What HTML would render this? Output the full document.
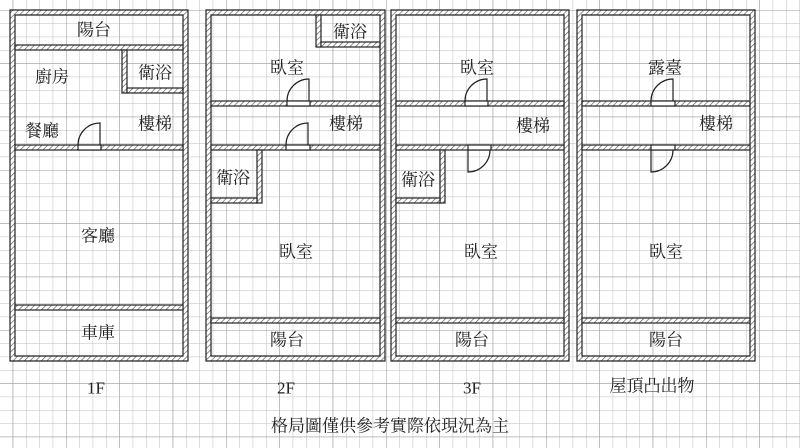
<!DOCTYPE html>
<html><head><meta charset="utf-8">
<style>
html,body{margin:0;padding:0;background:#fff;}
svg{display:block;}
text{font-family:"Liberation Serif","Noto Serif CJK SC","Noto Sans CJK TC",serif;font-size:17px;fill:#222;text-anchor:middle;dominant-baseline:central;}
</style></head><body>
<svg width="800" height="448" viewBox="0 0 800 448" xmlns="http://www.w3.org/2000/svg">
<defs>
<pattern id="g" x="12.7" y="10" width="13.333" height="13.333" patternUnits="userSpaceOnUse">
<path d="M0 0H13.333M0 0V13.333" stroke="#bdbdbd" stroke-width="1" fill="none"/>
</pattern>
<pattern id="G" x="12.7" y="10" width="53.333" height="53.333" patternUnits="userSpaceOnUse">
<path d="M0 0H53.333M0 0V53.333" stroke="#9a9a9a" stroke-width="1" fill="none"/>
</pattern>
<pattern id="h" width="4" height="4" patternUnits="userSpaceOnUse" patternTransform="rotate(45)">
<rect width="4" height="4" fill="#fff"/><line x1="0" y1="0" x2="0" y2="4" stroke="#555" stroke-width="1.3"/>
</pattern>
</defs>
<rect width="800" height="448" fill="#fff"/>
<rect width="800" height="448" fill="url(#g)"/>
<rect width="800" height="448" fill="url(#G)"/>

<g stroke="#222" stroke-width="1.2" fill="url(#h)">
<!-- 1F -->
<path fill-rule="evenodd" d="M10 10H188V361H10Z M15 15H183V356H15Z"/>
<rect x="15" y="45" width="168" height="5"/>
<rect x="15" y="145" width="168" height="5"/>
<rect x="15" y="305" width="168" height="5"/>
<rect x="122" y="50" width="5" height="43"/>
<rect x="127" y="88" width="56" height="5"/>
<!-- 2F -->
<path fill-rule="evenodd" d="M206 10H385V361H206Z M211 15H380V356H211Z"/>
<rect x="211" y="101" width="169" height="5"/>
<rect x="211" y="145" width="169" height="5"/>
<rect x="211" y="318" width="169" height="5"/>
<rect x="316" y="15" width="5" height="32"/>
<rect x="321" y="42" width="59" height="5"/>
<rect x="257" y="150" width="5" height="53"/>
<rect x="211" y="198" width="46" height="5"/>
<!-- 3F -->
<path fill-rule="evenodd" d="M391 10H569V361H391Z M396 15H564V356H396Z"/>
<rect x="396" y="101" width="168" height="5"/>
<rect x="396" y="145" width="168" height="5"/>
<rect x="396" y="318" width="168" height="5"/>
<rect x="440" y="150" width="5" height="53"/>
<rect x="396" y="198" width="44" height="5"/>
<!-- Roof -->
<path fill-rule="evenodd" d="M577 10H755V361H577Z M582 15H750V356H582Z"/>
<rect x="582" y="101" width="168" height="5"/>
<rect x="582" y="145" width="168" height="5"/>
<rect x="582" y="318" width="168" height="5"/>
</g>

<g stroke="#222" stroke-width="1.2" fill="none">
<!-- doors opening up -->
<rect x="78" y="145" width="23" height="5" fill="#fff"/><path d="M78 145A22 22 0 0 1 100 123V145"/>
<rect x="287" y="101" width="23" height="5" fill="#fff"/><path d="M287 101A22 22 0 0 1 309 79V101"/>
<rect x="286" y="145" width="24" height="5" fill="#fff"/><path d="M286 145A22 22 0 0 1 308 123V145"/>
<rect x="465" y="101" width="23" height="5" fill="#fff"/><path d="M465 101A22 22 0 0 1 487 79V101"/>
<rect x="651" y="101" width="24" height="5" fill="#fff"/><path d="M651 101A22 22 0 0 1 673 79V101"/>
<!-- doors opening down -->
<rect x="468" y="145" width="23" height="5" fill="#fff"/><path d="M468 150V172A22 22 0 0 0 490 150"/>
<rect x="651" y="145" width="24" height="5" fill="#fff"/><path d="M651 150V172A22 22 0 0 0 673 150"/>
</g>

<text x="94" y="30">陽台</text>
<text x="52" y="77">廚房</text>
<text x="155" y="73">衛浴</text>
<text x="42" y="131">餐廳</text>
<text x="155" y="124">樓梯</text>
<text x="98" y="236">客廳</text>
<text x="98" y="333">車庫</text>

<text x="350" y="32">衛浴</text>
<text x="287" y="68">臥室</text>
<text x="346" y="124">樓梯</text>
<text x="233" y="178">衛浴</text>
<text x="296" y="252">臥室</text>
<text x="287" y="340">陽台</text>

<text x="477" y="68">臥室</text>
<text x="533" y="126">樓梯</text>
<text x="418" y="180">衛浴</text>
<text x="481" y="252">臥室</text>
<text x="472" y="340">陽台</text>

<text x="665" y="68">露臺</text>
<text x="716" y="124">樓梯</text>
<text x="666" y="252">臥室</text>
<text x="666" y="340">陽台</text>

<text x="96" y="388">1F</text>
<text x="286" y="388">2F</text>
<text x="472" y="388">3F</text>
<text x="652" y="386">屋頂凸出物</text>
<text x="390" y="426">格局圖僅供參考實際依現況為主</text>
</svg>
</body></html>
